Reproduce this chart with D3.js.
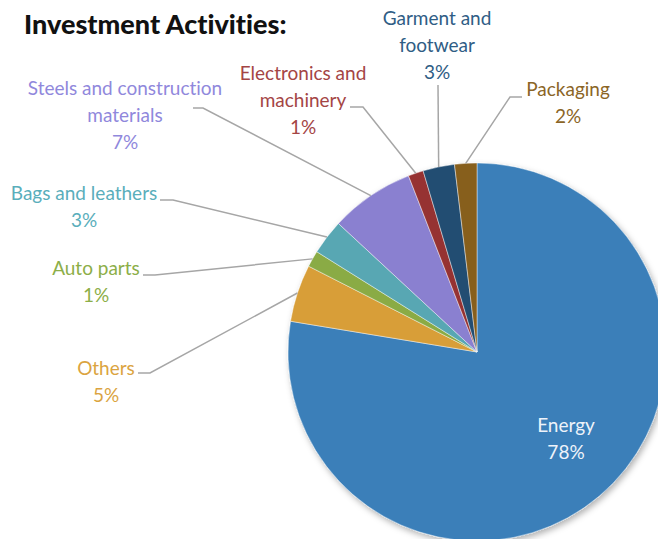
<!DOCTYPE html>
<html>
<head>
<meta charset="utf-8">
<script src="https://cdn.jsdelivr.net/npm/d3@7"></script>
<style>
  html, body { margin: 0; padding: 0; background: #fff; overflow: hidden; }
  svg { display: block; }
  text { font-variant-ligatures: none; font-feature-settings: "liga" 0; }
  .lbl { font-family: Lato, sans-serif; font-weight: 400; font-size: 19px; }
  .title { font-family: Lato, sans-serif; font-weight: 900; font-size: 27px; }
</style>
</head>
<body>
<svg id="chart" width="658" height="539"></svg>
<script>
// Investment activities by sector (share of total, %)
const categories = ["Energy", "Others", "Auto parts", "Bags and leathers",
  "Steels and construction materials", "Electronics and machinery",
  "Garment and footwear", "Packaging"];
const shares = [77.6, 4.9, 1.4, 3.0, 7.2, 1.3, 2.7, 1.9];
const labelLines = [["Energy"], ["Others"], ["Auto parts"], ["Bags and leathers"],
  ["Steels and construction", "materials"], ["Electronics and", "machinery"],
  ["Garment and", "footwear"], ["Packaging"]];

const sliceColors = ["#3a7fb9", "#d89e38", "#8aab44", "#58a7b3", "#8a80d0", "#963232", "#234e72", "#875e1e"];
const textColors  = ["#eef3fa", "#dba43f", "#8cae48", "#5aaebb", "#9088dc", "#a44545", "#2f5d85", "#8b6526"];

// label block placement: centre x, first line centre y, and leader elbow (null = no leader)
const labelLayout = [
  { x: 566, y: 425, leader: null },
  { x: 106, y: 368, leader: [[138, 373], [150, 373]] },
  { x: 96,  y: 268, leader: [[143, 275], [155, 275]] },
  { x: 84,  y: 193, leader: [[160, 200], [173, 200]] },
  { x: 125, y: 88,  leader: [[193, 108], [203, 108]] },
  { x: 303, y: 73,  leader: [[350, 107], [363, 107]] },
  { x: 437, y: 18,  leader: [[438, 85]] },
  { x: 568, y: 89,  leader: [[522, 97], [510, 97]] }
];

const svg = d3.select("#chart");
const cx = 477, cy = 352, radius = 189, lineH = 27;

const defs = svg.append("defs");
const shadow = defs.append("filter").attr("id", "pieShadow")
  .attr("x", "-20%").attr("y", "-20%").attr("width", "140%").attr("height", "140%");
shadow.append("feDropShadow").attr("dx", 2).attr("dy", 3).attr("stdDeviation", 3)
  .attr("flood-color", "#000").attr("flood-opacity", 0.3);

svg.append("text").attr("class", "title")
  .attr("x", 24).attr("y", 34).attr("fill", "#111")
  .text("Investment Activities:");

const data = categories.map((c, i) => ({ name: c, value: shares[i], i }));
const pie = d3.pie().value(d => d.value).sort(null).startAngle(0).endAngle(2 * Math.PI);
const arcs = pie(data);
const arc = d3.arc().innerRadius(0).outerRadius(radius);

const g = svg.append("g").attr("transform", `translate(${cx},${cy})`);
g.append("g").attr("filter", "url(#pieShadow)")
  .selectAll("path").data(arcs).join("path")
  .attr("d", arc)
  .attr("fill", d => sliceColors[d.data.i])
  .attr("stroke", "#ffffff").attr("stroke-opacity", 0.55).attr("stroke-width", 0.8);

// leader lines from slice edge midpoint to label elbow
const edgePoint = d => {
  const a = (d.startAngle + d.endAngle) / 2;
  return [cx + radius * Math.sin(a), cy - radius * Math.cos(a)];
};
const line = d3.line();
arcs.forEach(d => {
  const lay = labelLayout[d.data.i];
  if (!lay.leader) return;
  const pts = lay.leader.concat([edgePoint(d)]);
  svg.append("path").attr("d", line(pts))
    .attr("fill", "none").attr("stroke", "#a6a6a6").attr("stroke-width", 1.5);
});

const fmt = d3.format(".0f");
arcs.forEach(d => {
  const lay = labelLayout[d.data.i];
  const lines = labelLines[d.data.i].concat([fmt(d.data.value) + "%"]);
  const t = svg.append("text").attr("class", "lbl")
    .attr("text-anchor", "middle").attr("fill", textColors[d.data.i]);
  lines.forEach((s, k) => {
    t.append("tspan").attr("x", lay.x).attr("y", lay.y + k * lineH).attr("dy", "0.35em").text(s);
  });
});
</script>
</body>
</html>
